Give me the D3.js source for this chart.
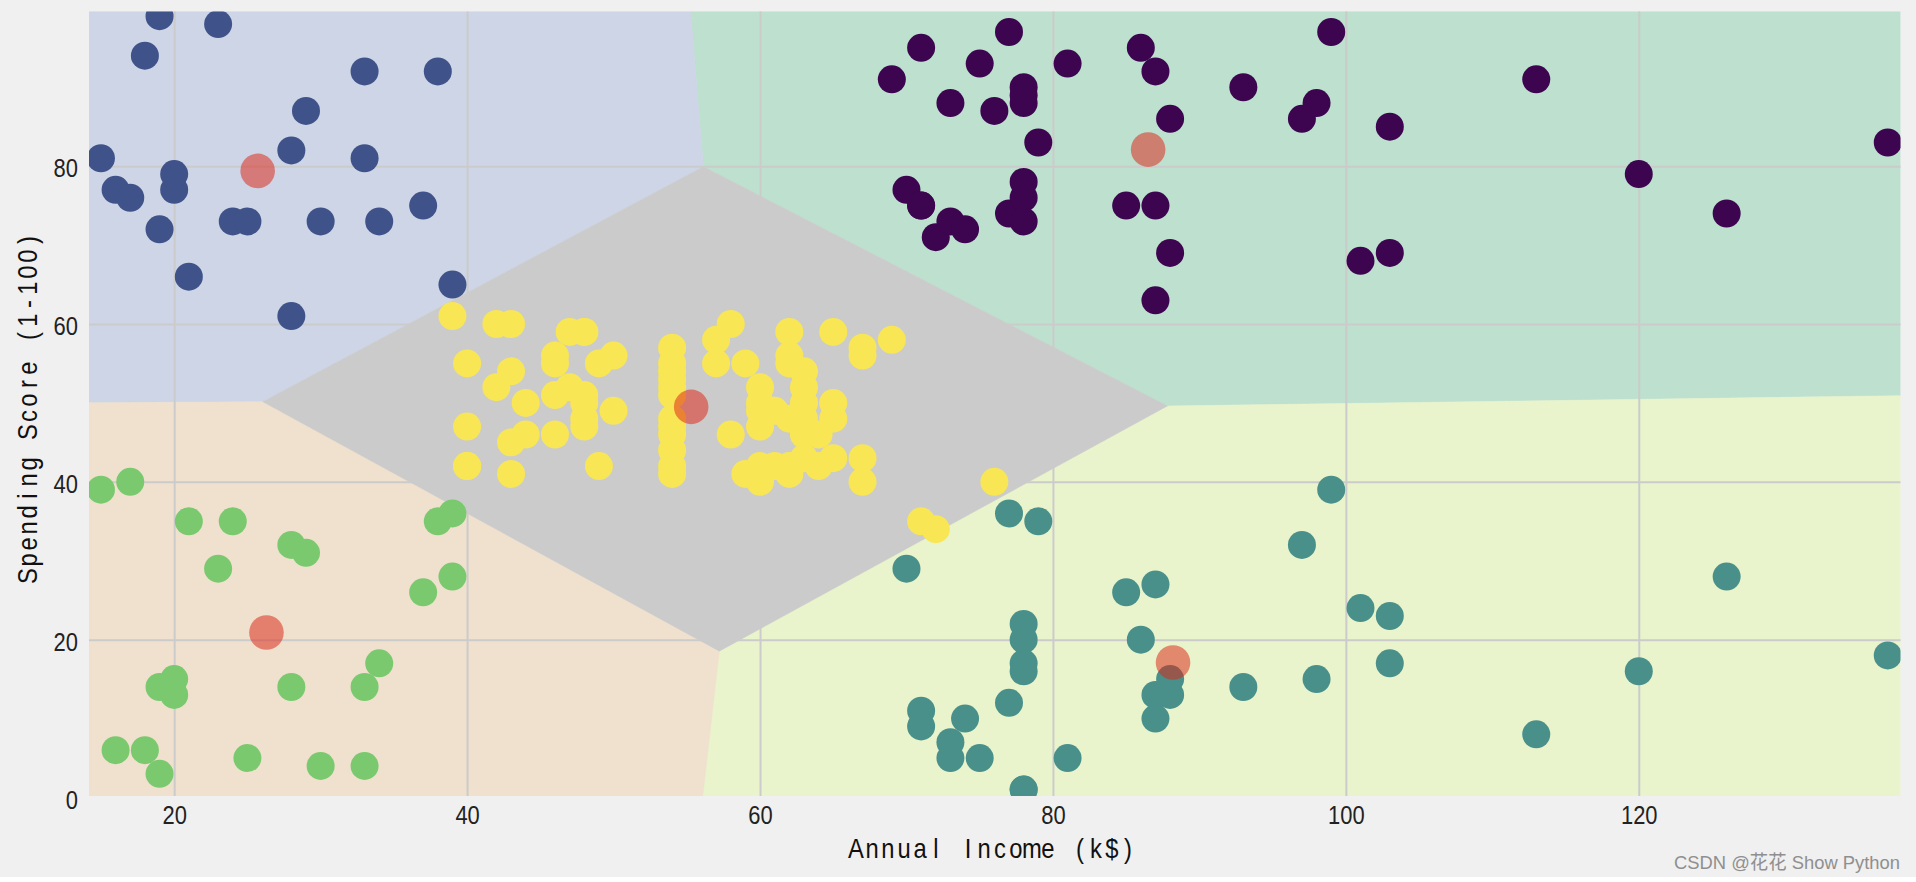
<!DOCTYPE html>
<html>
<head>
<meta charset="utf-8">
<script src="https://cdnjs.cloudflare.com/ajax/libs/d3/7.8.5/d3.min.js"></script>
<style>
  html, body { margin: 0; padding: 0; background: #fff; overflow: hidden; }
  svg { display: block; }
  text { font-family: "Liberation Sans", "Noto Sans CJK SC", sans-serif; fill: #222; }
</style>
</head>
<body>
<svg id="chart" width="1916" height="877"></svg>
<script>
// values, cluster by cluster
const purpleIncome = [69,70,71,71,71,72,73,73,74,75,76,77,77,78,78,78,78,78,78,79,81,85,86,87,87,87,88,88,93,97,98,99,101,103,103,113,120,126,137];
const purpleScore  = [91,77,95,75,75,71,88,73,72,93,87,97,74,90,88,76,89,78,73,83,93,75,95,63,75,92,86,69,90,86,88,97,68,85,69,91,79,74,83];
const blueIncome = [15,16,17,18,19,19,20,20,21,23,24,25,28,28,29,30,33,33,34,37,38,39];
const blueScore  = [81,77,76,94,72,99,77,79,66,98,73,73,82,61,87,73,92,81,73,75,92,65];
const tealIncome = [70,71,71,73,73,74,75,77,77,78,78,78,78,78,78,79,81,85,86,87,87,87,88,88,93,97,98,99,101,103,103,113,120,126,137];
const tealScore  = [29,11,9,5,7,10,5,12,36,22,17,20,16,1,1,35,5,26,20,27,13,10,13,15,14,32,15,39,24,17,23,8,16,28,18];
const greenIncome = [15,16,17,18,19,19,20,20,21,23,24,25,28,28,29,30,33,33,34,37,38,39,39];
const greenScore  = [39,6,40,6,3,14,15,13,35,29,35,5,14,32,31,4,4,14,17,26,35,36,28];
const yellowIncome = [39,40,40,40,40,42,42,43,43,43,43,44,44,46,46,46,46,47,47,48,48,48,48,48,48,49,49,50,50,54,54,54,54,54,54,54,54,54,54,54,54,57,57,58,58,59,59,60,60,60,60,60,60,61,61,62,62,62,62,62,62,63,63,63,63,63,63,64,64,65,65,65,65,67,67,67,67,69,71,72,76];
const yellowScore  = [61,55,47,42,42,52,60,54,60,45,41,50,46,51,46,56,55,52,59,51,59,50,48,59,47,55,42,49,56,47,54,53,48,52,42,51,55,41,44,57,46,58,55,60,46,55,41,49,40,42,52,47,50,42,49,41,48,59,55,56,42,50,46,43,48,52,54,42,46,48,50,43,59,43,57,56,40,58,35,34,40];

const centerIncome = [86.5, 25.7, 88.2, 26.3, 55.3];
const centerScore  = [82.1, 79.4, 17.1, 20.9, 49.5];
const regionColors = ['#bde0cf', '#cdd5e6', '#e9f4cc', '#efe1cd', '#cbcbcb'];

const clusters = [
  { income: purpleIncome, score: purpleScore, color: '#3d0550' },
  { income: blueIncome,   score: blueScore,   color: '#3f5289' },
  { income: tealIncome,   score: tealScore,   color: '#49908b' },
  { income: greenIncome,  score: greenScore,  color: '#7ac96f' },
  { income: yellowIncome, score: yellowScore, color: '#f8e655' }
];

const xTicks = [20, 40, 60, 80, 100, 120];
const yTicks = [0, 20, 40, 60, 80];
const xLimits = [14.15, 137.87];
const yLimits = [0, 99.7];

const plotLeft = 89, plotRight = 1900.5, plotTop = 11.5, plotBottom = 796;

const svg = d3.select('#chart');
svg.append('rect').attr('width', 1916).attr('height', 877).attr('fill', '#f0f0f0');

const x = d3.scaleLinear().domain(xLimits).range([plotLeft - 0.5, plotRight]);
const y = d3.scaleLinear().domain(yLimits).range([797.5, plotTop - 0.8]);

svg.append('clipPath').attr('id', 'plot-clip').append('rect')
  .attr('x', plotLeft).attr('y', plotTop)
  .attr('width', plotRight - plotLeft).attr('height', plotBottom - plotTop);

const plot = svg.append('g').attr('clip-path', 'url(#plot-clip)');

// the coloured regions are the voronoi cells of the cluster centres, in data space
const centers = centerIncome.map((d, i) => [d, centerScore[i]]);
const voronoi = d3.Delaunay.from(centers)
  .voronoi([xLimits[0], yLimits[0], xLimits[1], yLimits[1]]);
const cellLine = d3.line().x(d => x(d[0])).y(d => y(d[1]));

plot.selectAll('path.region')
  .data(centers)
  .enter().append('path')
  .attr('class', 'region')
  .attr('d', (d, i) => cellLine(voronoi.cellPolygon(i)))
  .attr('fill', (d, i) => regionColors[i])
  .attr('stroke', (d, i) => regionColors[i])
  .attr('stroke-width', 0.5);

// axes double as the grid
const xAxis = svg.append('g')
  .attr('transform', `translate(0,${plotBottom})`)
  .call(d3.axisBottom(x).tickValues(xTicks).tickFormat(d3.format('d')).tickSize(-(plotBottom - plotTop)));
const yAxis = svg.append('g')
  .attr('transform', `translate(${plotLeft},0)`)
  .call(d3.axisLeft(y).tickValues(yTicks).tickFormat(d3.format('d')).tickSize(-(plotRight - plotLeft)).tickPadding(11));

[xAxis, yAxis].forEach(axis => {
  axis.select('.domain').remove();
  axis.selectAll('line').attr('stroke', '#cbcbcb').attr('stroke-width', 2);
  axis.selectAll('text')
    .style('font-size', '25px')
    .attr('fill', '#222')
    .attr('textLength', function() { return this.textContent.length * 12.2; })
    .attr('lengthAdjust', 'spacingAndGlyphs');
});
xAxis.selectAll('text').attr('y', 28).attr('dy', 0);
yAxis.selectAll('text').attr('dy', '0.42em');
yAxis.selectAll('.tick').filter(d => d === 0).select('line').remove();

const points = svg.append('g').attr('clip-path', 'url(#plot-clip)');
clusters.forEach(c => {
  points.append('g').selectAll('circle')
    .data(c.income.map((d, i) => [d, c.score[i]]))
    .enter().append('circle')
    .attr('cx', d => x(d[0]))
    .attr('cy', d => y(d[1]))
    .attr('r', 14)
    .attr('fill', c.color);
});

points.append('g').selectAll('circle')
  .data(centers)
  .enter().append('circle')
  .attr('cx', d => x(d[0]))
  .attr('cy', d => y(d[1]))
  .attr('r', 17.3)
  .attr('fill', '#dc2415')
  .attr('fill-opacity', 0.52);

// the labels use a half-width font in the picture: put each glyph centred in a fixed cell
function monoLabel(sel, cell) {
  const node = sel.node();
  const str = node.textContent;
  const start = -str.length * cell / 2;
  const xs = [];
  for (let i = 0; i < str.length; i++) {
    xs.push(start + i * cell + (cell - node.getSubStringLength(i, 1)) / 2);
  }
  sel.attr('x', xs.join(' '));
}

// narrowed with a scale, so the cell is wider than the 16px it ends up as
const labelSqueeze = 0.85;

const xLabel = svg.append('text')
  .attr('transform', `translate(992,858) scale(${labelSqueeze},1)`)
  .style('font-size', '28px')
  .style('fill', '#111')
  .text('Annual Income (k$)');
monoLabel(xLabel, 16 / labelSqueeze);

const yLabel = svg.append('text')
  .attr('transform', `translate(37,408) rotate(-90) scale(${labelSqueeze},1)`)
  .style('font-size', '28px')
  .style('fill', '#111')
  .text('Spending Score (1-100)');
monoLabel(yLabel, 16 / labelSqueeze);

svg.append('text')
  .attr('x', 1900)
  .attr('y', 869)
  .attr('text-anchor', 'end')
  .attr('textLength', 226)
  .attr('lengthAdjust', 'spacingAndGlyphs')
  .style('font-size', '19px')
  .style('fill', '#8f8f8f')
  .text('CSDN @花花 Show Python');
</script>
</body>
</html>
